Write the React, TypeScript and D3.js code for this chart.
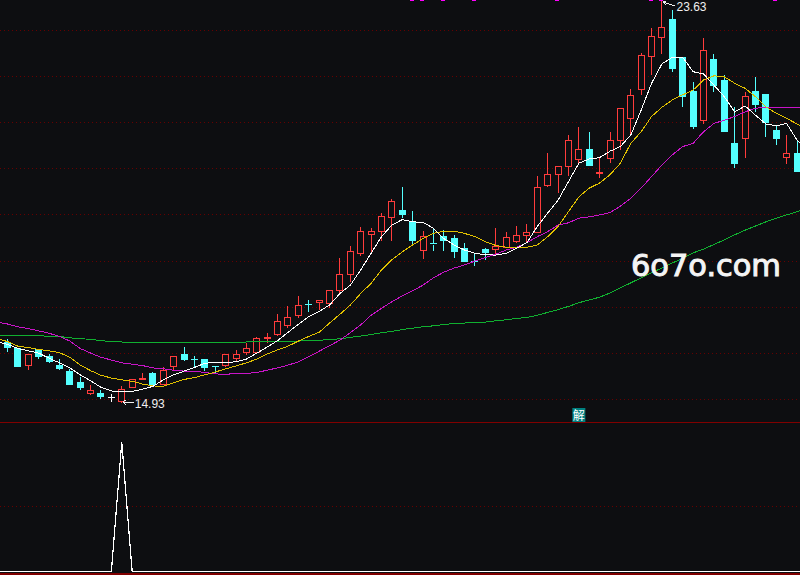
import React from "react";
import * as d3 from "d3";

const opens = [16.24, 16.12, 15.75, 16.08, 15.93, 15.75, 15.62, 15.38, 15.13, 15.13, 15.04, 14.97, 15.26, 15.43, 15.56, 15.32, 15.73, 15.99, 15.88, 15.88, 15.71, 15.75, 15.9, 16.03, 16.03, 16.33, 16.41, 16.6, 16.82, 17.06, 17.1, 17.08, 17.36, 17.71, 18.17, 18.57, 18.64, 18.95, 19.1, 18.86, 18.23, 18.39, 18.54, 18.49, 18.28, 17.99, 18.26, 18.25, 18.3, 18.43, 18.56, 18.62, 19.64, 19.88, 20.05, 20.2, 20.41, 19.9, 20.23, 20.62, 21.09, 21.72, 22.43, 22.84, 23.22, 22.41, 21.68, 21.05, 22.37, 21.92, 20.54, 20.66, 21.68, 21.6, 20.82, 20.25, 20.33];
const closes = [16.13, 15.73, 15.99, 15.93, 15.82, 15.67, 15.34, 15.26, 15.21, 15.06, 15.04, 15.23, 15.43, 15.47, 15.34, 15.64, 15.93, 15.88, 15.88, 15.69, 15.71, 15.97, 15.99, 16.12, 16.32, 16.35, 16.7, 16.78, 17.04, 17.06, 17.14, 17.37, 17.72, 18.21, 18.65, 18.65, 18.97, 19.3, 19.0, 18.44, 18.54, 18.37, 18.44, 18.2, 18.0, 17.99, 18.18, 18.32, 18.51, 18.56, 18.62, 19.6, 19.88, 20.04, 20.62, 20.42, 20.08, 19.92, 20.62, 21.31, 21.58, 22.45, 22.87, 23.06, 22.16, 21.57, 20.92, 22.56, 21.81, 20.8, 20.11, 21.57, 21.4, 21.01, 20.65, 20.33, 19.94];
const highs = [16.32, 16.12, 15.99, 16.1, 15.99, 15.88, 15.67, 15.49, 15.32, 15.21, 15.13, 15.3, 15.43, 15.58, 15.6, 15.71, 15.93, 16.14, 15.95, 15.88, 15.71, 15.99, 16.08, 16.23, 16.36, 16.45, 16.86, 17.03, 17.25, 17.16, 17.14, 17.37, 18.07, 18.33, 18.73, 18.71, 19.04, 19.34, 19.6, 19.08, 18.65, 18.71, 18.67, 18.56, 18.39, 18.18, 18.28, 18.71, 18.63, 18.76, 18.8, 19.84, 20.33, 20.04, 20.74, 20.9, 20.8, 20.23, 20.8, 21.31, 21.72, 22.5, 23.05, 23.63, 23.44, 22.41, 21.88, 22.83, 22.48, 22.02, 21.33, 21.65, 21.98, 21.6, 20.92, 20.74, 20.62];
const lows = [16.03, 15.71, 15.64, 15.88, 15.8, 15.64, 15.34, 15.21, 15.1, 15.02, 14.95, 14.93, 15.26, 15.43, 15.34, 15.32, 15.62, 15.84, 15.71, 15.62, 15.58, 15.71, 15.84, 15.97, 16.03, 16.23, 16.39, 16.56, 16.78, 16.9, 16.94, 16.99, 17.29, 17.54, 18.11, 18.19, 18.44, 18.44, 18.94, 18.34, 18.05, 18.23, 18.22, 18.07, 17.99, 17.9, 18.03, 18.15, 18.28, 18.4, 18.41, 18.62, 19.61, 19.47, 19.85, 20.12, 20.07, 19.81, 20.12, 20.41, 20.74, 21.6, 22.03, 22.48, 22.09, 21.34, 20.86, 20.97, 21.66, 20.8, 20.02, 20.24, 21.23, 20.69, 20.51, 20.11, 19.94];

// moving averages start one session before the first visible candle and end one after the last
const ma5 = [16.25, 16.2, 16.11, 16.06, 16.01, 15.9, 15.8, 15.69, 15.54, 15.41, 15.27, 15.19, 15.18, 15.18, 15.23, 15.29, 15.43, 15.54, 15.62, 15.7, 15.79, 15.81, 15.81, 15.82, 15.88, 16.01, 16.14, 16.28, 16.46, 16.63, 16.8, 16.91, 17.05, 17.3, 17.48, 17.81, 18.17, 18.53, 18.78, 18.9, 18.85, 18.84, 18.71, 18.49, 18.35, 18.24, 18.17, 18.14, 18.13, 18.17, 18.28, 18.4, 18.75, 19.04, 19.32, 19.72, 20.12, 20.21, 20.24, 20.38, 20.48, 20.73, 21.27, 21.85, 22.27, 22.41, 22.41, 22.1, 22.05, 21.81, 21.56, 21.23, 21.36, 21.16, 20.97, 20.93, 20.98, 20.62, 20.41];
const ma10 = [16.32, 16.26, 16.16, 16.13, 16.09, 16.06, 16.02, 15.92, 15.75, 15.63, 15.53, 15.47, 15.43, 15.4, 15.34, 15.3, 15.29, 15.37, 15.44, 15.48, 15.54, 15.6, 15.67, 15.73, 15.8, 15.88, 15.99, 16.08, 16.16, 16.27, 16.37, 16.46, 16.66, 16.85, 17.05, 17.3, 17.52, 17.81, 18.03, 18.2, 18.35, 18.49, 18.6, 18.65, 18.65, 18.6, 18.53, 18.42, 18.34, 18.3, 18.3, 18.3, 18.35, 18.53, 18.75, 19.07, 19.39, 19.58, 19.69, 19.87, 20.12, 20.55, 20.8, 21.13, 21.33, 21.49, 21.6, 21.7, 21.92, 22.01, 21.99, 21.85, 21.74, 21.56, 21.34, 21.2, 21.09, 20.97, 20.84];
const ma20 = [16.68, 16.64, 16.58, 16.54, 16.49, 16.44, 16.37, 16.27, 16.11, 16.01, 15.92, 15.86, 15.8, 15.77, 15.74, 15.69, 15.67, 15.64, 15.62, 15.62, 15.59, 15.56, 15.55, 15.57, 15.57, 15.59, 15.64, 15.69, 15.75, 15.82, 15.93, 16.05, 16.17, 16.29, 16.45, 16.62, 16.83, 16.98, 17.12, 17.25, 17.36, 17.48, 17.64, 17.76, 17.85, 17.92, 18.0, 18.08, 18.15, 18.24, 18.3, 18.4, 18.53, 18.64, 18.78, 18.83, 18.93, 18.96, 19.0, 19.05, 19.19, 19.36, 19.58, 19.83, 20.08, 20.3, 20.48, 20.55, 20.8, 20.98, 21.05, 21.13, 21.23, 21.31, 21.33, 21.33, 21.33, 21.32, 21.31];
const ma120 = [16.4, 16.4, 16.4, 16.4, 16.39, 16.37, 16.37, 16.34, 16.32, 16.31, 16.28, 16.26, 16.25, 16.23, 16.23, 16.23, 16.23, 16.24, 16.25, 16.25, 16.25, 16.25, 16.25, 16.25, 16.25, 16.26, 16.26, 16.26, 16.27, 16.27, 16.28, 16.29, 16.3, 16.32, 16.35, 16.38, 16.41, 16.45, 16.48, 16.52, 16.55, 16.58, 16.6, 16.63, 16.65, 16.66, 16.68, 16.68, 16.71, 16.73, 16.76, 16.78, 16.83, 16.89, 16.95, 17.02, 17.1, 17.16, 17.22, 17.31, 17.42, 17.53, 17.64, 17.75, 17.85, 17.96, 18.06, 18.18, 18.26, 18.36, 18.46, 18.57, 18.67, 18.76, 18.85, 18.93, 19.0, 19.07, 19.15];
const maSeries: [number[], string][] = [
  [ma120, "#10b030"],
  [ma20, "#c814c8"],
  [ma10, "#e0c000"],
  [ma5, "#ffffff"],
];

// lower pane signal: fires once, on the session of the low
const signal = ma5.map((_, i) => (i === 12 ? 1 : 0));

const priceTicks = [15, 16, 17, 18, 19, 20, 21, 22, 23];
const signalTicks = [0.5];
const topMarks = [39, 40, 42, 45, 53, 62, 63, 74];
const whiteDoji = [10];
const hintIndex = 55;
const hintText = "解";
const peakIndex = 63;
const troughIndex = 11;

const width = 800;
const height = 575;
const bg = "#0d0e11";
const gridColor = "#660000";
const up = "#ff3c3c";
const down = "#54ffff";

const x = d3.scaleLinear().domain([0, 76]).range([7.5, 797]);
const y = d3.scaleLinear().domain([14.93, 23.63]).range([403, 1]);
const ySignal = d3.scaleLinear().domain([0, 1]).range([571.5, 442]);

// snap to the pixel grid, the reference is drawn without antialiasing
const snap = (v: number) => Math.round(v - 0.5) + 0.5;

const maLine = (values: number[]) =>
  d3
    .line<number>()
    .x((_, i) => x(i - 1))
    .y((d) => y(d))(values) ?? "";

const signalLine =
  d3
    .line<number>()
    .x((_, i) => x(i - 1))
    .y((d) => ySignal(d))(signal) ?? "";

export default function App() {
  return (
    <svg
      width={width}
      height={height}
      style={{ position: "absolute", left: 0, top: 0, display: "block", background: bg }}
    >
      {priceTicks.map((t) => (
        <line
          key={t}
          x1={0}
          x2={width}
          y1={snap(y(t))}
          y2={snap(y(t))}
          stroke={gridColor}
          strokeDasharray="1 3"
        />
      ))}
      {signalTicks.map((t) => (
        <line
          key={t}
          x1={0}
          x2={width}
          y1={snap(ySignal(t))}
          y2={snap(ySignal(t))}
          stroke={gridColor}
          strokeDasharray="1 3"
        />
      ))}
      <line x1={0} x2={width} y1={422.5} y2={422.5} stroke="#800000" />
      <line x1={0} x2={width} y1={574} y2={574} stroke="#800000" strokeWidth={2} />

      {topMarks.map((i) => (
        <rect key={i} x={Math.round(x(i)) - 3} y={0} width={4} height={1} fill="#ff00ff" />
      ))}

      <g shapeRendering="crispEdges">
        {opens.map((o, i) => {
          const c = closes[i];
          const cx = snap(x(i));
          const rising = c > o;
          const color = whiteDoji.includes(i) ? "#ffffff" : rising ? up : down;
          const top = snap(y(Math.max(o, c)));
          const bottom = snap(y(Math.min(o, c)));
          const h = bottom - top;
          return (
            <g key={i}>
              <line x1={cx} x2={cx} y1={y(highs[i])} y2={top} stroke={color} />
              <line x1={cx} x2={cx} y1={bottom} y2={y(lows[i])} stroke={color} />
              {h < 1.5 ? (
                <line x1={cx - 3.5} x2={cx + 3.5} y1={top} y2={top} stroke={color} strokeWidth={rising ? 2 : 1} />
              ) : (
                <rect
                  x={cx - 3}
                  y={top}
                  width={6}
                  height={h}
                  fill={rising ? bg : color}
                  stroke={color}
                />
              )}
            </g>
          );
        })}
      </g>

      {maSeries.map(([values, color]) => (
        <path key={color} d={maLine(values)} fill="none" stroke={color} strokeWidth={1} shapeRendering="crispEdges" />
      ))}

      <path d={signalLine} fill="none" stroke="#ffffff" strokeWidth={1.2} shapeRendering="crispEdges" />

      <g fontFamily="'Liberation Sans', Arial, sans-serif" fontSize={12} fill="#f0f0f0">
        <path
          d={`M${x(peakIndex) + 1},${y(23.63) + 1}L${x(peakIndex) + 13},${y(23.63) + 5}M${x(peakIndex) + 1},${y(23.63) + 1}l3,-1M${x(peakIndex) + 1},${y(23.63) + 1}l3,3`}
          fill="none"
          stroke="#f0f0f0"
          shapeRendering="crispEdges"
        />
        <text x={x(peakIndex) + 14.5} y={y(23.63) + 10}>
          23.63
        </text>
        <path
          d={`M${x(troughIndex) + 1},${y(14.93) - 1}H${x(troughIndex) + 12}M${x(troughIndex) + 1},${y(14.93) - 1}l3,-2M${x(troughIndex) + 1},${y(14.93) - 1}l3,3`}
          fill="none"
          stroke="#f0f0f0"
          shapeRendering="crispEdges"
        />
        <text x={x(troughIndex) + 13} y={y(14.93) + 4.7}>
          14.93
        </text>
      </g>

      <rect x={x(hintIndex) - 6.5} y={408} width={13} height={14} fill="#008080" />
      <text
        x={x(hintIndex)}
        y={419.5}
        textAnchor="middle"
        fontSize={12}
        fill="#ffffff"
        fontFamily="'Noto Sans CJK SC', sans-serif"
      >
        {hintText}
      </text>

      <text
        x={631}
        y={276}
        textLength={150}
        lengthAdjust="spacingAndGlyphs"
        fontFamily="'DejaVu Sans', sans-serif"
        fontSize={30}
        fill="#f4f4f4"
        stroke="#f4f4f4"
        strokeWidth={1}
      >
        6o7o.com
      </text>
    </svg>
  );
}
